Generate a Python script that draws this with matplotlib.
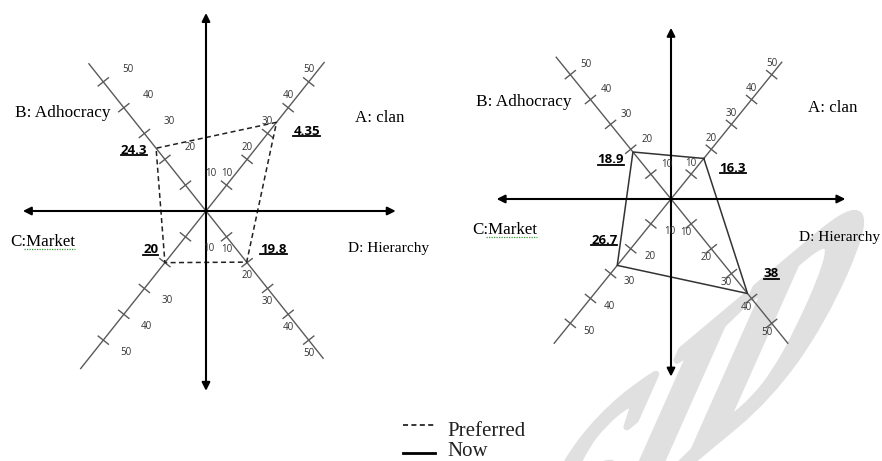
import numpy as np
import matplotlib
matplotlib.use('Agg')
import matplotlib.pyplot as plt
from matplotlib.lines import Line2D
from matplotlib.patches import PathPatch
from matplotlib.textpath import TextPath
from matplotlib.font_manager import FontProperties
from matplotlib.transforms import Affine2D, IdentityTransform

W, H = 882, 461

# axis order: A, B, C, D
axis_names = ['A: clan', 'B: Adhocracy', 'C:Market', 'D: Hierarchy']
tick_values = [10, 20, 30, 40, 50]

preferred_values = [34.35, 24.3, 20, 19.8]
preferred_labels = ['4.35', '24.3', '20', '19.8']
now_values = [16.3, 18.9, 26.7, 38]
now_labels = ['16.3', '18.9', '26.7', '38']

legend_labels = ['Preferred', 'Now']

name_sizes = [12.2, 12.4, 12.2, 11.1]

fig = plt.figure(figsize=(W / 100, H / 100), dpi=100)
fig.patch.set_facecolor('white')

value_texts = []
name_texts = []


def panel(center, ppu, theta, vert, horiz, diag_len, tick_off, val_off, hide,
          name_pos, values, labels, ls, lw, color):
    cx, cy = center
    ax = fig.add_axes([0, 0, 1, 1])
    ax.set_xlim(-cx / ppu, (W - cx) / ppu)
    ax.set_ylim(-(H - cy) / ppu, cy / ppu)
    ax.axis('off')
    ax.patch.set_visible(False)

    t = np.deg2rad(theta)
    dirs = np.array([[np.cos(t), np.sin(t)], [-np.cos(t), np.sin(t)],
                     [-np.cos(t), -np.sin(t)], [np.cos(t), -np.sin(t)]])

    # main arrows
    arrow = dict(arrowstyle='<|-|>', color='black', lw=1.5, mutation_scale=12,
                 shrinkA=0, shrinkB=0)
    ax.annotate('', xy=(0, vert[0]), xytext=(0, vert[1]), arrowprops=arrow)
    ax.annotate('', xy=(horiz[1], 0), xytext=(horiz[0], 0), arrowprops=arrow)

    # diagonal scales
    h = 6.5 / ppu
    for i, d in enumerate(dirs):
        end = d * diag_len[i]
        ax.plot([0, end[0]], [0, end[1]], color='#5a5a5a', lw=1.0)
        perp = np.array([-d[1], d[0]])
        for v in tick_values:
            p = d * v
            ax.plot([p[0] - perp[0] * h, p[0] + perp[0] * h],
                    [p[1] - perp[1] * h, p[1] + perp[1] * h],
                    color='#5a5a5a', lw=1.0)
            if (i, v) in hide:
                continue
            ox, oy = tick_off[i]
            ax.annotate(str(v), xy=p, xytext=(ox, -oy), textcoords='offset pixels',
                        ha='center', va='center', fontsize=7, color='#333333',
                        family='Open Sans')

    # profile polygon
    pts = np.array(values)[:, None] * dirs
    closed = np.vstack([pts, pts[:1]])
    ax.plot(closed[:, 0], closed[:, 1], linestyle=ls, lw=lw, color=color)

    for i, p in enumerate(pts):
        ox, oy = val_off[i]
        txt = ax.annotate(labels[i], xy=p, xytext=(ox, -oy), textcoords='offset pixels',
                          ha='center', va='center', fontsize=9.5, fontweight='bold',
                          color='black', family='Open Sans')
        value_texts.append(txt)

    for i, (x, y) in enumerate(name_pos):
        nt = fig.text(x / W, 1 - y / H, axis_names[i], ha='left', va='center',
                      fontsize=name_sizes[i], family='Liberation Serif', color='black')
        name_texts.append(nt)


# left: preferred (dashed)
panel(center=(206, 211), ppu=3.3, theta=51.5, vert=(60, -54.5), horiz=(-55.5, 57.5),
      diag_len=[57.5, 57, 61, 57], tick_off=[(0, -12), (25, -12), (23, 12), (0, 13)],
      val_off=[(30, 9), (-22, 2), (-14, -13), (27, -13)], hide=[(2, 20)],
      name_pos=[(355, 118), (15, 113), (10, 242), (348, 248)],
      values=preferred_values, labels=preferred_labels,
      ls=(0, (3.3, 2.2)), lw=1.1, color='#222222')

# right: now (solid)
panel(center=(671, 199), ppu=3.2, theta=51, vert=(53.5, -55.5), horiz=(-54.5, 54.5),
      diag_len=[55, 57, 58, 58], tick_off=[(0, -11), (16, -10), (19, 8), (-5, 9)],
      val_off=[(29, 10), (-22, 8), (-13, -25), (24, -20)], hide=[],
      name_pos=[(808, 108), (476, 102), (472, 230), (799, 237)],
      values=now_values, labels=now_labels,
      ls='-', lw=1.1, color='#333333')

# legend
fig.add_artist(Line2D([403 / W, 435 / W], [1 - 425 / H, 1 - 425 / H],
                      transform=fig.transFigure, color='black', lw=1.1,
                      linestyle=(0, (3.3, 2.2))))
fig.add_artist(Line2D([403 / W, 435 / W], [1 - 453 / H, 1 - 453 / H],
                      transform=fig.transFigure, color='black', lw=2.0))
fig.text(447 / W, 1 - 436 / H, legend_labels[0], ha='left', va='baseline',
         fontsize=15, family='Liberation Serif', color='#222222')
fig.text(447 / W, 1 - 456 / H, legend_labels[1], ha='left', va='baseline',
         fontsize=15, family='Liberation Serif', color='#222222')

# watermark, slanted like the scanned page
wm = TextPath((0, 0), 'SID', size=100,
              prop=FontProperties(family='Liberation Serif', weight='bold'))
a, b = np.deg2rad(40), np.deg2rad(66)
sx, sy = 2.6, 3.2
mat = np.array([[sx * np.cos(a), sy * np.cos(b), 0.0],
                [sx * np.sin(a), sy * np.sin(b), 0.0],
                [0.0, 0.0, 1.0]])
d_top = mat[:2, :2] @ np.array([96.0, 67.6])
mat[0, 2] = 758 - d_top[0]
mat[1, 2] = (H - 282) - d_top[1]
fig.add_artist(PathPatch(wm, transform=Affine2D(mat), facecolor='#e0e0e0',
                         edgecolor='#e0e0e0', lw=5, joinstyle='round', zorder=-5))

# underline value labels, spell-check squiggle under "Market"
fig.canvas.draw()
renderer = fig.canvas.get_renderer()
for txt in value_texts:
    bb = txt.get_window_extent(renderer)
    fig.add_artist(Line2D([bb.x0, bb.x1], [bb.y0 + 1.5, bb.y0 + 1.5],
                          transform=IdentityTransform(), color='black', lw=1.3))
for nt in name_texts:
    if nt.get_text().startswith('C:'):
        bb = nt.get_window_extent(renderer)
        x0 = bb.x0 + 0.22 * bb.width
        fig.add_artist(Line2D([x0, bb.x1], [bb.y0 + 1, bb.y0 + 1],
                              transform=IdentityTransform(), color='#3a9a3a',
                              lw=0.9, linestyle=(0, (1, 1))))

fig.savefig('out.png', dpi=100)
